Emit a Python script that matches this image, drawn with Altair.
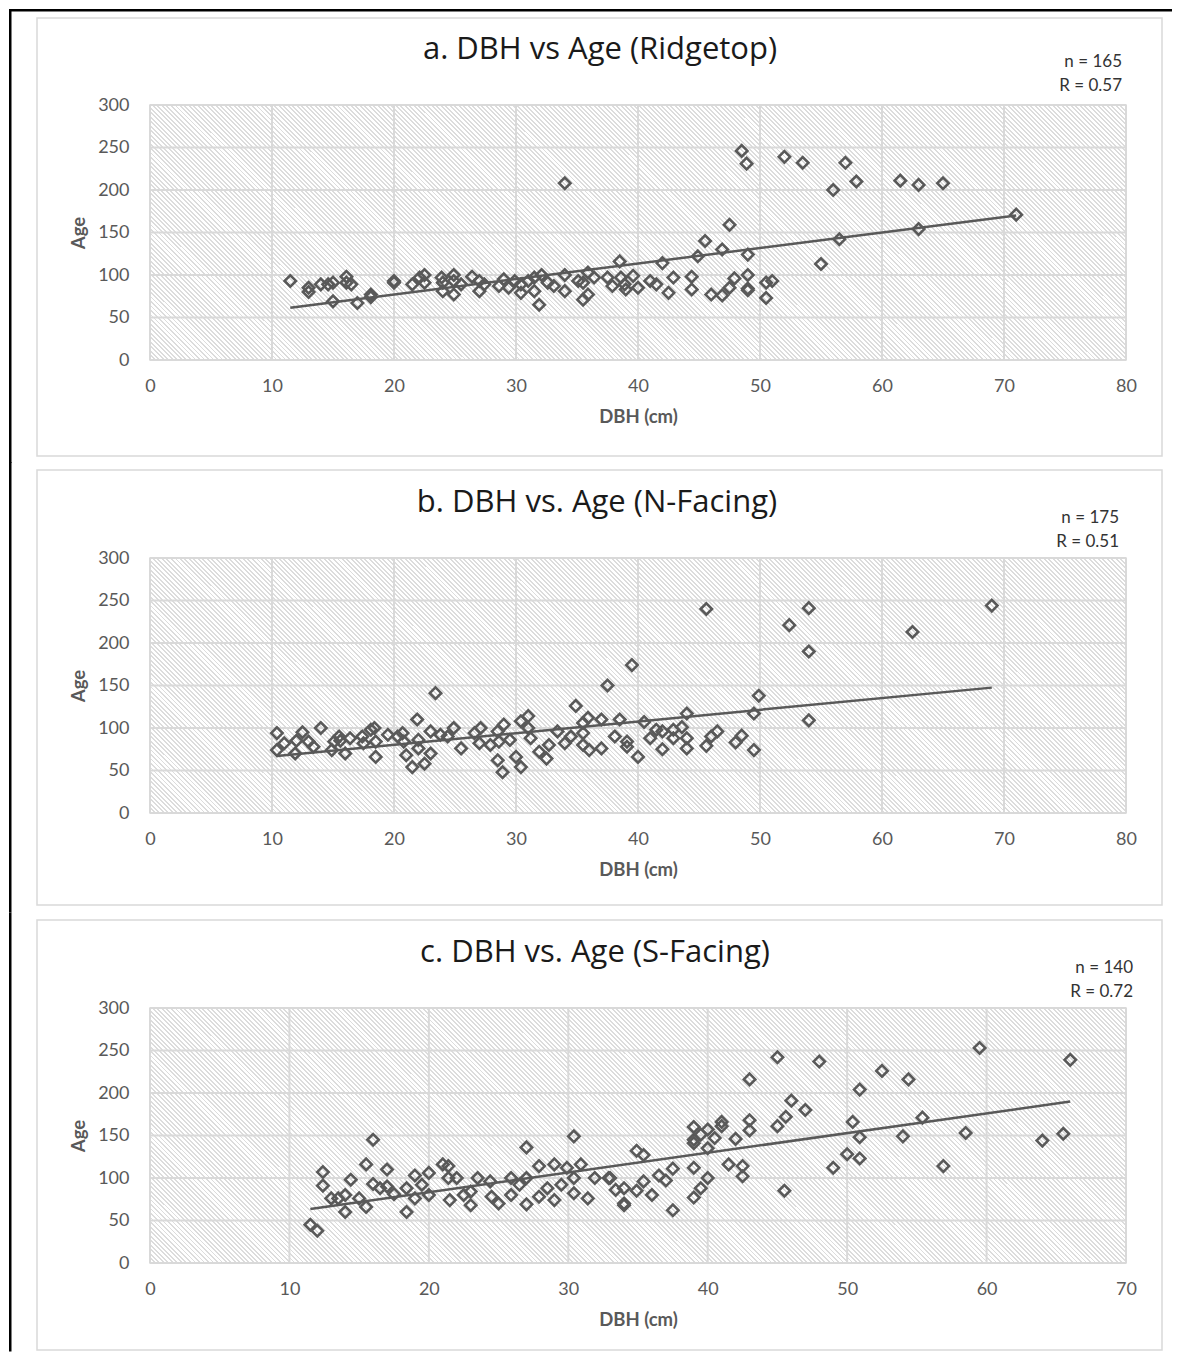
import math
import altair as alt
import pandas as pd

# ---------------- data ----------------
# Panel a: Ridgetop
xa = [11.5, 13, 13, 14, 14.6, 15, 15, 16.1, 16.1, 16.5, 17, 18.1, 18.1, 20, 20, 21.5, 22.1, 22.5, 22.5,
      23.9, 24, 24, 24.9, 24.9, 24.9, 25.5, 26.4, 27, 27, 27.4, 28.6, 29, 29.4, 29.9, 30.4, 30.4, 31, 31.5,
      31.5, 31.9, 32.1, 32.6, 33.1, 34, 34, 34, 35.1, 35.5, 35.5, 35.9, 35.9, 36.4, 37.5, 37.9, 38.5, 38.6,
      38.9, 39, 39.6, 40, 41, 41.5, 42, 42.5, 42.9, 44.4, 44.4, 44.9, 45.5, 46, 46.9, 46.9, 47.5, 47.5, 47.9,
      48.5, 48.9, 49, 49, 49, 49, 50.5, 50.5, 51, 52, 53.5, 55, 56, 56.5, 57, 57.9, 61.5, 63, 63, 65, 71]
ya = [93, 85, 80, 89, 89, 91, 69, 98, 91, 89, 67, 77, 74, 93, 91, 89, 97, 100, 91,
      97, 91, 81, 100, 93, 77, 89, 98, 93, 81, 89, 87, 95, 85, 93, 89, 79, 93, 97,
      81, 65, 100, 91, 87, 208, 100, 81, 93, 91, 71, 103, 77, 97, 97, 87, 116, 97,
      89, 83, 99, 85, 93, 89, 114, 79, 97, 98, 83, 122, 140, 77, 76, 130, 85, 159, 96,
      246, 231, 124, 100, 84, 82, 91, 73, 93, 239, 232, 113, 200, 142, 232, 210, 211, 206, 154, 208, 171]
trend_xa = [11.5, 71]
trend_ya = [61.5, 170]

# Panel b: N-Facing
xb = [10.4, 10.4, 11, 11.9, 12, 12.5, 13, 13.4, 14, 14.9, 15.1, 15.5, 15.6, 16, 16.4, 17.4, 17.5, 18.1,
      18.4, 18.5, 18.5, 19.5, 20.3, 20.7, 20.8, 21, 21.5, 21.9, 22, 22, 22.5, 23, 23, 23.4, 23.8, 24.4,
      24.9, 25.5, 26.6, 27, 27.1, 27.9, 28.5, 28.9, 28.5, 28.6, 29, 29.5, 30, 30.4, 30.4, 31, 31, 31.2,
      31.9, 32.5, 32.7, 33.4, 34, 34.5, 34.9, 35.5, 35.5, 35.5, 35.9, 36, 37, 37, 37.5, 38.1, 38.5, 39.1,
      39.1, 39.5, 40, 40.5, 41, 41.5, 42, 42, 42.9, 42.9, 43.6, 44, 44, 44, 45.6, 45.6, 46, 46.5, 48,
      48.5, 49.5, 49.5, 49.9, 52.4, 54, 54, 54, 62.5, 69]
yb = [94, 74, 82, 70, 85, 95, 84, 78, 100, 74, 84, 90, 85, 70, 88, 90, 82, 98,
      100, 84, 66, 92, 90, 94, 84, 68, 54, 110, 86, 76, 58, 70, 96, 141, 92, 90,
      100, 76, 94, 82, 100, 80, 62, 48, 96, 84, 104, 86, 66, 54, 108, 114, 100, 88,
      72, 64, 80, 96, 82, 90, 126, 106, 94, 80, 112, 74, 110, 76, 150, 90, 110, 84,
      78, 174, 66, 107, 88, 98, 96, 75, 98, 88, 101, 117, 88, 76, 240, 79, 90, 96, 83,
      91, 117, 74, 138, 221, 241, 190, 109, 213, 244]
trend_xb = [10.4, 69]
trend_yb = [67, 147.5]

# Panel c: S-Facing
xc = [11.5, 12, 12.4, 12.4, 13, 13.5, 14, 14, 14.4, 15, 15.5, 15.5, 16, 16, 16.5, 17, 17, 17.5, 18.4,
      18.4, 19, 19, 19.5, 20, 20, 21, 21.4, 21.4, 21.5, 22, 22.5, 23, 23, 23.5, 24.4, 24.5, 25, 25.9,
      25.9, 26.5, 27, 27, 27, 27.9, 27.9, 28.5, 29, 29, 29.5, 29.9, 30.4, 30.4, 30.4, 30.9, 31.4, 31.9,
      32.9, 33.4, 34, 34, 34, 33, 34.9, 35.4, 34.9, 35.4, 36, 36.5, 37, 37.5, 37.5, 39, 39, 39.5, 40,
      39, 39, 39, 39.5, 40, 40, 40.5, 41, 41, 41.5, 42, 42.5, 42.5, 43, 43, 43, 45, 45, 45.5, 45.6, 46,
      47, 48, 49, 50, 50.4, 50.9, 50.9, 50.9, 52.5, 54, 54.4, 55.4, 56.9, 58.5, 59.5, 64, 65.5, 66]
yc = [45, 38, 107, 91, 76, 76, 60, 80, 98, 76, 116, 66, 145, 93, 88, 110, 90, 81, 60,
      88, 103, 76, 92, 106, 80, 116, 114, 100, 74, 100, 80, 68, 84, 100, 96, 78, 70, 100,
      80, 92, 136, 69, 100, 114, 78, 88, 116, 74, 92, 112, 149, 100, 82, 116, 76, 100,
      100, 86, 68, 88, 70, 100, 132, 127, 85, 96, 80, 103, 97, 111, 62, 112, 77, 88, 100,
      160, 145, 141, 151, 157, 135, 147, 166, 161, 116, 146, 114, 102, 216, 168, 156, 242, 161, 85, 172, 191,
      180, 237, 112, 128, 166, 204, 148, 123, 226, 149, 216, 171, 114, 153, 253, 144, 152, 239]
trend_xc = [11.5, 66]
trend_yc = [63.5, 190]

titles = ["a. DBH vs Age (Ridgetop)", "b. DBH vs. Age (N-Facing)", "c. DBH vs. Age (S-Facing)"]
n_labels = ["n = 165", "n = 175", "n = 140"]
r_labels = ["R = 0.57", "R = 0.51", "R = 0.72"]
x_max = [80, 80, 70]
y_ticks = [0, 50, 100, 150, 200, 250, 300]

# ---------------- styling ----------------
W, H = 976, 255
FONT = "Lato"
TITLE_FONT = "Open Sans"
MARK = "#595959"
GRID = "#d9d9d9"

# diagonal hatch as a hard-stop linear gradient in bounding-box units
r = H / W
k = (1 + r) / (1 + r * r)
L = (W + H) / math.sqrt(2)
P = 4.5 / math.sqrt(2)
frac = 0.35
HC = "#dcdcdc"
stops = []
i = 0
while i * P < L:
    a = min(1.0, i * P / L)
    b = min(1.0, (i * P + frac * P) / L)
    c = min(1.0, (i + 1) * P / L)
    stops += [(a, HC), (b, HC), (b, "#ffffff"), (c, "#ffffff")]
    i += 1
hatch = alt.LinearGradient(gradient="linear", x1=0, y1=1, x2=round(k, 5), y2=round(1 - k * r, 5),
                           stops=[alt.GradientStop(offset=round(o, 5), color=col) for o, col in stops])

one = pd.DataFrame({"k": [0]})


def black_bar(x1, x2, y1, y2):
    return alt.Chart(one).mark_rect(fill="black", strokeWidth=0).encode(
        x=alt.value(x1), x2=alt.value(x2), y=alt.value(y1), y2=alt.value(y2))


def panel(idx, xs, ys, tx, ty, bar_top, bar_bot, top_line, frame_top, frame_bot,
          title_x, title_y, text_right, n_y):
    pts = pd.DataFrame({"DBH": xs, "Age": ys})
    trend = pd.DataFrame({"DBH": tx, "Age": ty})
    xmax = x_max[idx]
    xvals = list(range(0, xmax + 1, 10))
    xscale = alt.Scale(domain=[0, xmax], nice=False)
    yscale = alt.Scale(domain=[0, 300], nice=False)
    xenc = alt.X("DBH:Q", scale=xscale, axis=alt.Axis(values=xvals, title="DBH (cm)"))
    yenc = alt.Y("Age:Q", scale=yscale, axis=alt.Axis(values=y_ticks, title="Age"))

    frame = alt.Chart(one).mark_rect(fillOpacity=0, stroke=GRID, strokeWidth=1.5).encode(
        x=alt.value(-113), x2=alt.value(1012), y=alt.value(frame_top), y2=alt.value(frame_bot))
    layers = [frame, black_bar(-141, -138.5, bar_top, bar_bot)]
    if top_line:
        layers.append(black_bar(-141, 1022, bar_top, bar_top + 2.5))

    bg = alt.Chart(one).mark_rect(fill=hatch, strokeWidth=0).encode(
        x=alt.value(0), x2=alt.value(W), y=alt.value(0), y2=alt.value(H))
    vgrid = alt.Chart(pd.DataFrame({"DBH": xvals})).mark_rule(color=GRID, strokeWidth=2).encode(
        x=alt.X("DBH:Q", scale=xscale))
    hgrid = alt.Chart(pd.DataFrame({"Age": y_ticks})).mark_rule(color=GRID, strokeWidth=2).encode(
        y=alt.Y("Age:Q", scale=yscale))

    line = alt.Chart(trend).mark_line(color=MARK, strokeWidth=2.5).encode(x=xenc, y=yenc)
    points = alt.Chart(pts).mark_point(shape="diamond", filled=False, size=130, strokeWidth=2.6,
                                       color=MARK, opacity=1).encode(x=xenc, y=yenc)
    title = alt.Chart(one).mark_text(font=TITLE_FONT, fontSize=31, color="#1a1a1a", align="center",
                                     baseline="alphabetic").encode(
        x=alt.value(title_x), y=alt.value(title_y), text=alt.value(titles[idx]))
    ntext = alt.Chart(one).mark_text(font=FONT, fontSize=17, color="#333333", align="right",
                                     baseline="alphabetic").encode(
        x=alt.value(text_right), y=alt.value(n_y), text=alt.value(n_labels[idx]))
    rtext = alt.Chart(one).mark_text(font=FONT, fontSize=17, color="#333333", align="right",
                                     baseline="alphabetic").encode(
        x=alt.value(text_right), y=alt.value(n_y + 24), text=alt.value(r_labels[idx]))
    layers += [bg, vgrid, hgrid, line, points, title, ntext, rtext]
    return alt.layer(*layers).properties(width=W, height=H)


pa = panel(0, xa, ya, trend_xa, trend_ya, -96, 358, True, -87, 351, 450, -46, 972, -38)
pb = panel(1, xb, yb, trend_xb, trend_yb, -96, 354.5, False, -88, 347, 447, -46, 969, -35)
pc = panel(2, xc, yc, trend_xc, trend_yc, -95.5, 343.5, False, -88, 342, 445, -46, 983, -35)

chart = alt.vconcat(pa, pb, pc, spacing=-3).properties(padding=0).configure(
    background="white", font=FONT
).configure_view(
    stroke=GRID, strokeWidth=1.5
).configure_axis(
    grid=False, domain=False, ticks=False, labelFlush=False,
    labelFont=FONT, labelFontSize=18, labelColor="#595959",
    titleFont=FONT, titleFontSize=18.5, titleFontWeight="bold", titleColor="#595959"
).configure_axisX(
    labelPadding=17, titlePadding=12
).configure_axisY(
    labelPadding=21, titlePadding=9
)

chart.save("out.html", embed_options={"renderer": "svg", "actions": False})
